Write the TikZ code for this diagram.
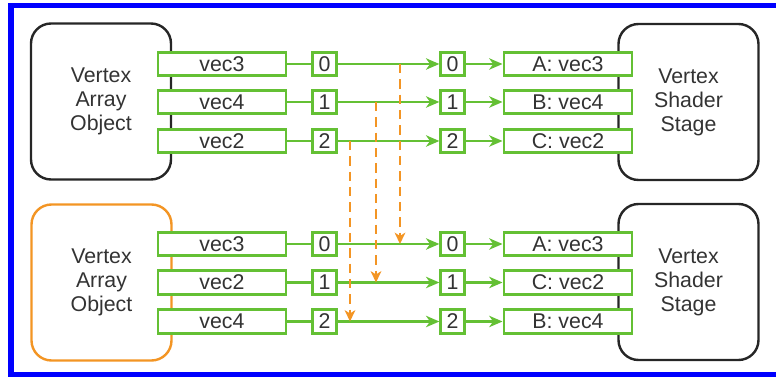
\documentclass[tikz,border=0pt]{standalone}
\usepackage{fontspec}
\setmainfont{Liberation Sans}
\usetikzlibrary{arrows.meta}

\definecolor{attrgreen}{RGB}{100,192,52}
\definecolor{remaporange}{RGB}{243,149,36}

\tikzset{
    stage/.style={draw=black!85, line width=1.8pt, rounded corners=15pt,
        minimum width=105pt, minimum height=117pt, align=center, text=black!80},
    attrib/.style={draw=attrgreen, fill=white, line width=2.2pt, inner sep=0pt,
        minimum width=96pt, minimum height=17.5pt, text=black!80},
    slot/.style={attrib, minimum width=17.5pt},
    link/.style={draw=attrgreen, line width=2pt},
    feed/.style={link, -{Stealth[length=10pt, width=8.5pt, inset=3pt]}},
    remap/.style={draw=remaporange, line width=2.2pt, dash pattern=on 7pt off 4.5pt,
        -{Stealth[length=8.5pt, width=8pt, inset=2.5pt]}}
}

\begin{document}
\begin{tikzpicture}[x=0.75pt, y=-0.75pt, font=\fontsize{16}{18}\selectfont]
    \useasboundingbox (0,0) rectangle (776,377);

    % Frame
    \draw[blue, line width=4pt] (780,5.5) -- (11,5.5) -- (11,374.5) -- (780,374.5);

    % Stages
    \node[stage] (vaoA) at (101,101.5) {Vertex\\Array\\Object};
    \node[stage] (vssA) at (688.5,102) {Vertex\\Shader\\Stage};
    \node[stage, draw=remaporange] (vaoB) at (101.5,282.5) {Vertex\\Array\\Object};
    \node[stage] (vssB) at (688.5,282) {Vertex\\Shader\\Stage};

    % Upper binding
    \node[attrib] (fmtA0) at (222,64) {vec3};
    \node[attrib] (fmtA1) at (222,102) {vec4};
    \node[attrib] (fmtA2) at (222,141) {vec2};
    \node[slot] (idxA0) at (324.5,64) {0};
    \node[slot] (idxA1) at (324.5,102) {1};
    \node[slot] (idxA2) at (324.5,141) {2};
    \node[slot] (locA0) at (452.5,64) {0};
    \node[slot] (locA1) at (452.5,102) {1};
    \node[slot] (locA2) at (452.5,141) {2};
    \node[attrib] (varA0) at (568,64) {A: vec3};
    \node[attrib] (varA1) at (568,102) {B: vec4};
    \node[attrib] (varA2) at (568,141) {C: vec2};

    % Lower binding
    \node[attrib] (fmtB0) at (222,244) {vec3};
    \node[attrib] (fmtB1) at (222,282.5) {vec2};
    \node[attrib] (fmtB2) at (222,321.5) {vec4};
    \node[slot] (idxB0) at (324.5,244) {0};
    \node[slot] (idxB1) at (324.5,282.5) {1};
    \node[slot] (idxB2) at (324.5,321.5) {2};
    \node[slot] (locB0) at (452.5,244) {0};
    \node[slot] (locB1) at (452.5,282.5) {1};
    \node[slot] (locB2) at (452.5,321.5) {2};
    \node[attrib] (varB0) at (568,244) {A: vec3};
    \node[attrib] (varB1) at (568,282.5) {C: vec2};
    \node[attrib] (varB2) at (568,321.5) {B: vec4};

    % Connections
    \draw[link] (fmtA0) -- (idxA0);
    \draw[link] (fmtA1) -- (idxA1);
    \draw[link] (fmtA2) -- (idxA2);
    \draw[feed] (idxA0) -- (locA0);
    \draw[feed] (idxA1) -- (locA1);
    \draw[feed] (idxA2) -- (locA2);
    \draw[feed] (locA0) -- (varA0);
    \draw[feed] (locA1) -- (varA1);
    \draw[feed] (locA2) -- (varA2);

    \draw[link] (fmtB0) -- (idxB0);
    \draw[link] (fmtB1) -- (idxB1);
    \draw[link] (fmtB2) -- (idxB2);
    \draw[feed] (idxB0) -- (locB0);
    \draw[feed] (idxB1) -- (locB1);
    \draw[feed] (idxB2) -- (locB2);
    \draw[feed] (locB0) -- (varB0);
    \draw[feed] (locB1) -- (varB1);
    \draw[feed] (locB2) -- (varB2);

    % Rebinding (dashed drops)
    \coordinate (dropA0) at (400,64);
    \coordinate (dropA1) at (376,102);
    \coordinate (dropA2) at (350,141);
    \draw[remap] (dropA0) -- (dropA0 |- locB0.center);
    \draw[remap] (dropA1) -- (dropA1 |- locB1.center);
    \draw[remap] (dropA2) -- (dropA2 |- locB2.center);

\end{tikzpicture}
\end{document}
